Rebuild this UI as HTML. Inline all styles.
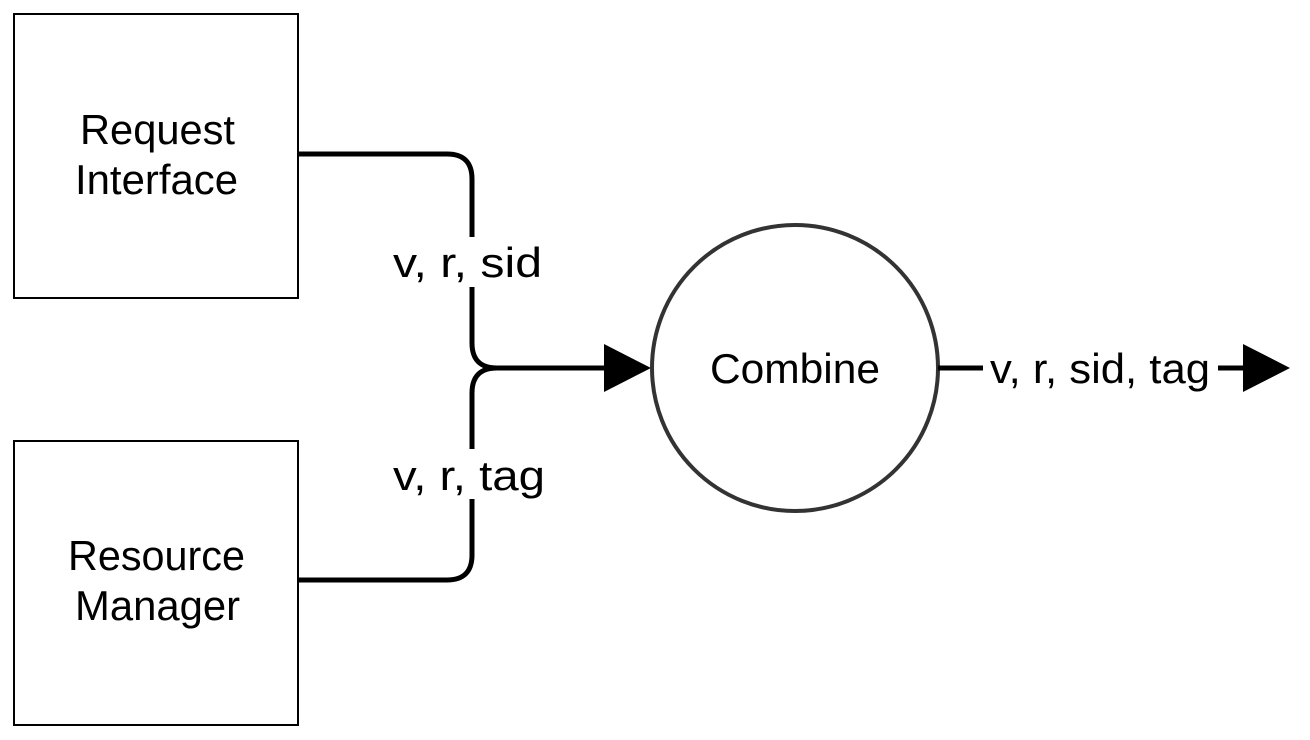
<!DOCTYPE html>
<html><head><style>
html,body{margin:0;padding:0;background:#fff;}
svg{display:block;}
text{font-family:"Liberation Sans",Arial,sans-serif;font-size:42px;fill:#000;}
</style></head><body>
<svg width="1310" height="740" viewBox="0 0 1310 740" xmlns="http://www.w3.org/2000/svg">
<rect x="14" y="14" width="284" height="284" fill="#fff" stroke="#000" stroke-width="2"/>
<rect x="14" y="441" width="284" height="284" fill="#fff" stroke="#000" stroke-width="2"/>
<text x="80" y="144" textLength="155" lengthAdjust="spacingAndGlyphs">Request</text>
<text x="75" y="194" textLength="163" lengthAdjust="spacingAndGlyphs">Interface</text>
<text x="68" y="570" textLength="177" lengthAdjust="spacingAndGlyphs">Resource</text>
<text x="75" y="620" textLength="165" lengthAdjust="spacingAndGlyphs">Manager</text>
<path d="M298 154 H447 Q472 154 472 179 V343 Q472 368 497 368 H610" fill="none" stroke="#000" stroke-width="5"/>
<path d="M298 580 H447 Q472 580 472 555 V393 Q472 368 497 368" fill="none" stroke="#000" stroke-width="5"/>
<rect x="390" y="237" width="158" height="50" fill="#fff"/>
<rect x="390" y="449" width="158" height="50" fill="#fff"/>
<text x="393" y="277" textLength="149" lengthAdjust="spacingAndGlyphs">v, r, sid</text>
<text x="393" y="490" textLength="152" lengthAdjust="spacingAndGlyphs">v, r, tag</text>
<polygon points="604,344 651,368 604,392" fill="#000"/>
<circle cx="795" cy="368" r="143" fill="#fff" stroke="#333" stroke-width="4"/>
<text x="710" y="383" textLength="170" lengthAdjust="spacingAndGlyphs">Combine</text>
<line x1="938" y1="368" x2="983" y2="368" stroke="#000" stroke-width="5"/>
<text x="990" y="383" textLength="220" lengthAdjust="spacingAndGlyphs">v, r, sid, tag</text>
<line x1="1218" y1="368" x2="1248" y2="368" stroke="#000" stroke-width="5"/>
<polygon points="1243,344 1290,368 1243,392" fill="#000"/>
</svg>
</body></html>
